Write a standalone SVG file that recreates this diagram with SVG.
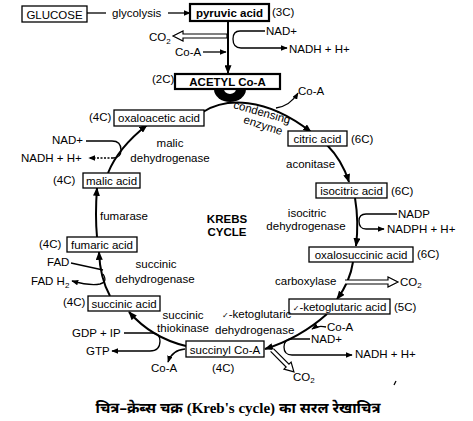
<svg xmlns="http://www.w3.org/2000/svg" width="473" height="421" viewBox="0 0 473 421">
<defs>
<marker id="ah" viewBox="0 0 10 8" refX="9" refY="4" markerWidth="9" markerHeight="7" markerUnits="userSpaceOnUse" orient="auto"><path d="M0 0 L10 4 L0 8 Z" fill="#000"/></marker>
<marker id="ahs" viewBox="0 0 10 8" refX="9" refY="4" markerWidth="7" markerHeight="5.5" markerUnits="userSpaceOnUse" orient="auto"><path d="M0 0 L10 4 L0 8 Z" fill="#000"/></marker>
</defs>
<style>
text{font-family:"Liberation Sans",Arial,sans-serif;font-size:11.5px;fill:#000}
.b{font-weight:bold}
.box{fill:#fff;stroke:#000;stroke-width:1.3}
.tb{fill:#fff;stroke:#000;stroke-width:2.2}
.cyc{fill:none;stroke:#000;stroke-width:2;marker-end:url(#ah)}
.ln{fill:none;stroke:#000;stroke-width:1.3}
.la{fill:none;stroke:#000;stroke-width:1.3;marker-end:url(#ahs)}
.hol{fill:#fff;stroke:#000;stroke-width:1.2}
.cap{font-family:"Noto Sans Devanagari","Noto Sans","Liberation Serif",serif;font-size:15px;font-weight:bold}
</style>
<rect width="473" height="421" fill="#fff"/>

<g id="connectors">
<path class="ln" d="M87 13 H106"/>
<path class="la" d="M168 13 H190"/>
<path class="cyc" d="M228 21 V73"/>
<path class="hol" d="M227 34 H183 V31 L173 36 L183 41 V38 H227 Z"/>
<path class="la" d="M203 52 H226"/>
<path class="ln" d="M265 31 H240 Q233 31 233 39"/>
<path class="la" d="M233 39 Q233 48 241 48 H287"/>
<path d="M214 89 A16 13 0 0 0 246 89 Z" fill="#000"/>
<path d="M224 89 A6 5 0 0 0 236 89 Z" fill="#fff"/>
<path class="cyc" d="M203 112 C225 98 265 96 311 132"/>
<path class="cyc" d="M327 145 Q342 160 349 182"/>
<path class="cyc" d="M355 198 Q359 222 356 246"/>
<path class="cyc" d="M353 262 Q350 282 337 299"/>
<path class="cyc" d="M327 314 Q300 338 265 349"/>
<path class="cyc" d="M186 346 Q152 338 129 312"/>
<path class="cyc" d="M110 296 Q100 278 99 252"/>
<path class="cyc" d="M97 237 Q95 215 97 188"/>
<path class="cyc" d="M108 173 Q118 148 147 125"/>
<path class="la" d="M276 108 Q290 106 298 93"/>
<path class="ln" d="M397 214 H366 Q359 214 359 221"/>
<path class="la" d="M359 221 Q359 229 366 229 H384"/>
<path class="hol" d="M345 280 H388 V277 L398 282 L388 287 V284 H345"/>
<path class="la" d="M326 327 Q318 325 312 329"/>
<path class="ln" d="M310 339 H292 Q284 339 284 347"/>
<path class="la" d="M284 347 Q284 355 292 355 H352"/>
<path class="hol" transform="translate(272 350) rotate(45)" d="M0 -2 H22 V-5 L31 0 L22 5 V2 H0"/>
<path class="la" d="M185 349 Q172 350 168 362"/>
<path class="ln" d="M124 333 H152 Q160 333 160 341"/>
<path class="la" d="M160 341 Q160 351 150 351 H112"/>
<path class="ln" d="M71 263 L103 270"/>
<path class="la" d="M103 274 Q108 282 100 284 Q90 286 72 281"/>
<path class="ln" d="M86 141 H112 Q121 141 121 150"/>
<path class="ln" d="M121 150 Q121 158 113 158"/>
<path class="la" d="M113 158 H89" stroke-dasharray="2 1.5"/>
<path class="ln" d="M396 381 L394 385"/>
</g>

<g id="glucose"><rect class="box" x="22" y="6" width="65" height="16"/><text x="54.5" y="19" text-anchor="middle">GLUCOSE</text></g>
<g id="glycolysis"><text x="112" y="17">glycolysis</text></g>
<g id="pyruvic"><rect class="tb" x="190" y="4" width="79" height="17"/><text class="b" x="229.5" y="17" text-anchor="middle">pyruvic acid</text><text x="272" y="16">(3C)</text></g>
<g id="co2top"><text x="149" y="41">CO<tspan font-size="8" dy="3">2</tspan></text><text x="175" y="56">Co-A</text></g>
<g id="nadtop"><text x="266" y="35">NAD+</text><text x="289" y="53">NADH + H+</text></g>
<g id="acetyl"><rect class="tb" x="175" y="74" width="105" height="15"/><text class="b" x="227.5" y="86" text-anchor="middle">ACETYL Co-A</text><text x="152" y="83">(2C)</text></g>
<g id="condensing"><text x="298" y="95">Co-A</text><text x="261" y="116" font-size="11" text-anchor="middle" transform="rotate(16 261 116)">condensing</text><text x="262" y="129" font-size="11" text-anchor="middle" transform="rotate(18 262 129)">enzyme</text></g>
<g id="oxaloacetic"><rect class="box" x="114" y="110" width="90" height="16"/><text x="159" y="122" text-anchor="middle">oxaloacetic acid</text><text x="89" y="121">(4C)</text></g>
<g id="citric"><rect class="box" x="288" y="131" width="59" height="15"/><text x="317.5" y="143" text-anchor="middle">citric acid</text><text x="351" y="143">(6C)</text></g>
<g id="aconitase"><text x="286" y="168">aconitase</text></g>
<g id="isocitric"><rect class="box" x="316" y="183" width="71" height="15"/><text x="351.5" y="195" text-anchor="middle">isocitric acid</text><text x="391" y="195">(6C)</text></g>
<g id="isocitricdh"><text x="307" y="217" text-anchor="middle">isocitric</text><text x="306" y="230" text-anchor="middle">dehydrogenase</text><text x="398" y="218">NADP</text><text x="387" y="233">NADPH + H+</text></g>
<g id="krebs"><text class="b" x="227" y="223" text-anchor="middle">KREBS</text><text class="b" x="227" y="236" text-anchor="middle">CYCLE</text></g>
<g id="oxalosuccinic"><rect class="box" x="309" y="247" width="104" height="15" stroke-width="1.6"/><text x="361" y="259" text-anchor="middle">oxalosuccinic acid</text><text x="417" y="258">(6C)</text></g>
<g id="carboxylase"><text x="275" y="285">carboxylase</text><text x="400" y="286">CO<tspan font-size="8" dy="2">2</tspan></text></g>
<g id="ketoglutaric"><rect class="box" x="289" y="299" width="101" height="15"/><text x="339.5" y="311" text-anchor="middle"><tspan font-size="8" font-family="DejaVu Sans">✓</tspan>-ketoglutaric acid</text><text x="394" y="311">(5C)</text></g>
<g id="ketodh"><text x="222" y="318"><tspan font-size="8" font-family="DejaVu Sans">✓</tspan>-ketoglutaric</text><text x="215" y="334">dehydrogenase</text><text x="327" y="331">Co-A</text><text x="311" y="343">NAD+</text><text x="355" y="358">NADH + H+</text><text x="293" y="381">CO<tspan font-size="8" dy="2">2</tspan></text></g>
<g id="succinylcoa"><rect class="box" x="186" y="341" width="78" height="16"/><text x="225" y="354" text-anchor="middle">succinyl Co-A</text><text x="212" y="372">(4C)</text><text x="151" y="372">Co-A</text></g>
<g id="thiokinase"><text x="183" y="319" text-anchor="middle">succinic</text><text x="183" y="332" text-anchor="middle">thiokinase</text><text x="72" y="337">GDP + IP</text><text x="86" y="355">GTP</text></g>
<g id="succinic"><rect class="box" x="88" y="296" width="72" height="15"/><text x="124" y="308" text-anchor="middle">succinic acid</text><text x="63" y="306">(4C)</text></g>
<g id="succinicdh"><text x="156" y="268" text-anchor="middle">succinic</text><text x="155" y="283" text-anchor="middle">dehydrogenase</text><text x="47" y="266">FAD</text><text x="31" y="285">FAD H<tspan font-size="8" dy="3">2</tspan></text></g>
<g id="fumaric"><rect class="box" x="67" y="237" width="70" height="15"/><text x="102" y="249" text-anchor="middle">fumaric acid</text><text x="39" y="248">(4C)</text></g>
<g id="fumarase"><text x="100" y="220">fumarase</text></g>
<g id="malic"><rect class="box" x="83" y="173" width="57" height="15"/><text x="111.5" y="185" text-anchor="middle">malic acid</text><text x="53" y="184">(4C)</text></g>
<g id="malicdh"><text x="170" y="147" text-anchor="middle">malic</text><text x="170" y="162" text-anchor="middle">dehydrogenase</text><text x="52" y="144">NAD+</text><text x="21" y="162">NADH + H+</text></g>
<g id="caption"><text class="cap" x="238" y="413" text-anchor="middle">चित्र–क्रेब्स चक्र <tspan font-family="'Liberation Serif',serif">(Kreb's cycle)</tspan> का सरल रेखाचित्र</text></g>
</svg>
